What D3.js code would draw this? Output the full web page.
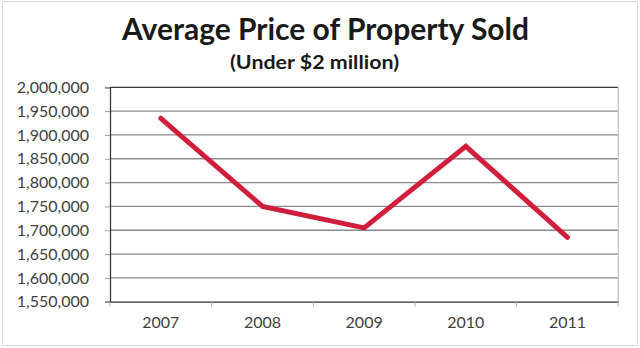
<!DOCTYPE html>
<html>
<head>
<meta charset="utf-8">
<script src="https://cdn.jsdelivr.net/npm/d3@7"></script>
<style>
    body { margin: 0; background: #ffffff; }
    svg { display: block; }
    text { font-family: Lato, "Open Sans", sans-serif; }
</style>
</head>
<body>
<div id="chart"></div>
<script>
// chart values
var years = ["2007", "2008", "2009", "2010", "2011"];
var avgPrice = [1935000, 1750000, 1705000, 1876000, 1685000];
var yTicks = [1550000, 1600000, 1650000, 1700000, 1750000, 1800000, 1850000, 1900000, 1950000, 2000000];
var titleText = "Average Price of Property Sold";
var subtitleText = "(Under $2 million)";

var width = 640, height = 348;
var plot = {left: 110, right: 618.3, top: 87.3, bottom: 301.7};

var svg = d3.select("#chart").append("svg")
    .attr("width", width)
    .attr("height", height);

// outer chart frame
svg.append("rect")
    .attr("x", 2.5)
    .attr("y", 1.5)
    .attr("width", 635)
    .attr("height", 344)
    .attr("fill", "#ffffff")
    .attr("stroke", "#d9d9d9")
    .attr("stroke-width", 1);

var x = d3.scaleBand()
    .domain(years)
    .range([plot.left, plot.right]);

var y = d3.scaleLinear()
    .domain([yTicks[0], yTicks[yTicks.length - 1]])
    .range([plot.bottom, plot.top]);

// horizontal gridlines
svg.append("g")
    .selectAll("line")
    .data(yTicks.slice(1))
    .enter().append("line")
    .attr("x1", plot.left)
    .attr("x2", plot.right)
    .attr("y1", function (d) { return y(d); })
    .attr("y2", function (d) { return y(d); })
    .attr("stroke", function (d, i) { return i === yTicks.length - 2 ? "#3a3a3a" : "#8a8a8a"; })
    .attr("stroke-width", 1.3);

// plot area right border
svg.append("line")
    .attr("x1", plot.right)
    .attr("x2", plot.right)
    .attr("y1", plot.top)
    .attr("y2", plot.bottom)
    .attr("stroke", "#c8c8c8")
    .attr("stroke-width", 1.5);

// y axis
var yAxis = svg.append("g")
    .attr("transform", "translate(" + plot.left + ",0)")
    .call(d3.axisLeft(y)
        .tickValues(yTicks)
        .tickFormat(d3.format(","))
        .tickSize(5)
        .tickPadding(16));
yAxis.select(".domain").attr("stroke", "#3a3a3a").attr("stroke-width", 1.3);
yAxis.selectAll(".tick line").attr("stroke", "#a0a0a0");
yAxis.selectAll("text")
    .attr("fill", "#404040")
    .style("font-size", "16px");

// x axis: labels at band centres, ticks at band edges
var xAxis = svg.append("g")
    .attr("transform", "translate(0," + plot.bottom + ")")
    .call(d3.axisBottom(x).tickSize(0).tickPadding(15.3));
xAxis.select(".domain").attr("stroke", "#2e2e2e").attr("stroke-width", 1.3);
xAxis.selectAll("text")
    .attr("fill", "#404040")
    .style("font-size", "16px");

var edges = years.map(function (d) { return x(d); }).concat([x(years[years.length - 1]) + x.bandwidth()]);
svg.append("g")
    .selectAll("line")
    .data(edges)
    .enter().append("line")
    .attr("x1", function (d) { return d; })
    .attr("x2", function (d) { return d; })
    .attr("y1", plot.bottom)
    .attr("y2", plot.bottom + 5)
    .attr("stroke", "#b0b0b0");

// the price line
var line = d3.line()
    .x(function (d, i) { return x(years[i]) + x.bandwidth() / 2; })
    .y(function (d) { return y(d); });

svg.append("path")
    .datum(avgPrice)
    .attr("d", line)
    .attr("fill", "none")
    .attr("stroke", "#d01f3d")
    .attr("stroke-width", 5)
    .attr("stroke-linejoin", "miter")
    .attr("stroke-linecap", "round");

// titles
svg.append("text")
    .attr("x", 325.5)
    .attr("y", 40)
    .attr("text-anchor", "middle")
    .attr("fill", "#1a1a1a")
    .attr("textLength", 407)
    .attr("lengthAdjust", "spacingAndGlyphs")
    .style("font-size", "30px")
    .style("font-weight", "700")
    .text(titleText);

svg.append("text")
    .attr("x", 314.5)
    .attr("y", 68.5)
    .attr("text-anchor", "middle")
    .attr("fill", "#1a1a1a")
    .attr("textLength", 169)
    .attr("lengthAdjust", "spacingAndGlyphs")
    .style("font-size", "18px")
    .style("font-weight", "700")
    .text(subtitleText);
</script>
</body>
</html>
